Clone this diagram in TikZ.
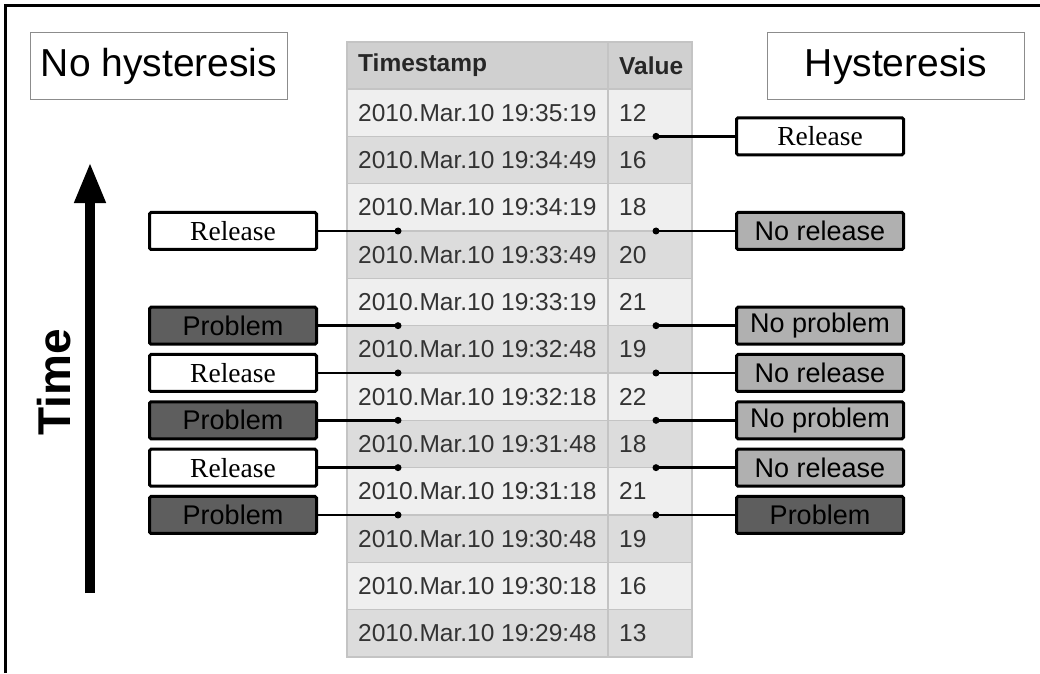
\documentclass[tikz,border=0pt]{standalone}
\usepackage{fontspec}
\setmainfont{Liberation Sans}
\newfontfamily\timesfont{Liberation Serif}
\usetikzlibrary{arrows.meta}
\definecolor{rowlight}{HTML}{EFEFEF}
\definecolor{rowdark}{HTML}{DCDCDC}
\definecolor{headfill}{HTML}{D0D0D0}
\definecolor{gridline}{HTML}{C4C4C4}
\definecolor{celltext}{HTML}{333333}
\definecolor{problemfill}{HTML}{5E5E5E}
\definecolor{okfill}{HTML}{B0B0B0}

\begin{document}
\begin{tikzpicture}[x=1pt,y=-1pt,
  title/.style={draw=gray!90,line width=1.2pt,minimum width=257pt,minimum height=67pt,inner sep=0pt,font=\fontsize{39}{41}\selectfont},
  tag/.style={draw,line width=3pt,rounded corners=1.5pt,minimum width=167pt,minimum height=37pt,inner sep=0pt,font=\fontsize{27}{28}\selectfont},
  release/.style={tag,fill=white,font=\timesfont\fontsize{27.5}{28}\selectfont},
  problem/.style={tag,fill=problemfill},
  fine/.style={tag,fill=okfill},
  cell/.style={anchor=west,inner sep=0pt,text=celltext,font=\fontsize{24.5}{26}\selectfont},
  link/.style={line width=2.5pt}]
\fill[white] (0,0) rectangle (1040,673);
\useasboundingbox (0,0) rectangle (1040,673);
\draw[line width=3pt] (5,673) -- (5,5) -- (1040,5);
% titles
\node[title] (nohyst) at (159,66) {No hysteresis};
\node[title] (hyst) at (896,66) {Hysteresis};
% the table, newest row on top
\fill[headfill] (347,42) rectangle (692,89);
\node[cell,font=\bfseries\fontsize{24.5}{26}\selectfont,text=black!85] (head1) at (358,65.5) {Timestamp};
\node[cell,font=\bfseries\fontsize{24.5}{26}\selectfont,text=black!85] (head2) at (619,65.5) {Value};
\foreach \r/\rowfill/\stamp/\val in {1/rowlight/19:35:19/12, 2/rowdark/19:34:49/16, 3/rowlight/19:34:19/18,
    4/rowdark/19:33:49/20, 5/rowlight/19:33:19/21, 6/rowdark/19:32:48/19, 7/rowlight/19:32:18/22,
    8/rowdark/19:31:48/18, 9/rowlight/19:31:18/21, 10/rowdark/19:30:48/19, 11/rowlight/19:30:18/16,
    12/rowdark/19:29:48/13} {
  \pgfmathsetmacro{\rowtop}{89+47.33*(\r-1)}
  \fill[\rowfill] (347,\rowtop) rectangle (692,{\rowtop+47.33});
  \draw[gridline,line width=1.2pt] (347,\rowtop) -- (692,\rowtop);
  \node[cell] (ts\r) at (358,{\rowtop+23.67}) {2010.Mar.10 \stamp};
  \node[cell] (val\r) at (619,{\rowtop+23.67}) {\val};
}
\draw[gridline,line width=1.2pt] (347,42) rectangle (692,657);
\draw[gridline,line width=1.2pt] (608,42) -- (608,657);
% left side: no hysteresis
\foreach \k/\kind/\txt in {3/release/Release, 5/problem/Problem, 6/release/Release,
    7/problem/Problem, 8/release/Release, 9/problem/Problem} {
  \coordinate (L\k) at (398,{89+47.33*\k});
  \node[\kind] (left\k) at (233,{89+47.33*\k}) {\txt};
  \draw[link] (left\k) -- (L\k);
  \fill (L\k) circle (3.5pt);
}
% right side: hysteresis
\foreach \k/\kind/\txt in {1/release/Release, 3/fine/No release, 5/fine/No problem,
    6/fine/No release, 7/fine/No problem, 8/fine/No release, 9/problem/Problem} {
  \coordinate (R\k) at (656,{89+47.33*\k});
  \node[\kind] (right\k) at (820,{89+47.33*\k}) {\txt};
  \draw[link] (right\k) -- (R\k);
  \fill (R\k) circle (3.5pt);
}
% time axis
\coordinate (tstart) at (90,593);
\coordinate (tend) at (90,162);
\draw[line width=10pt,-{Triangle[width=29pt,length=41pt]}] (tstart) -- (tend);
\node[rotate=90,font=\bfseries\fontsize{46}{48}\selectfont] (timelbl) at (54,382) {Time};
\end{tikzpicture}
\end{document}
